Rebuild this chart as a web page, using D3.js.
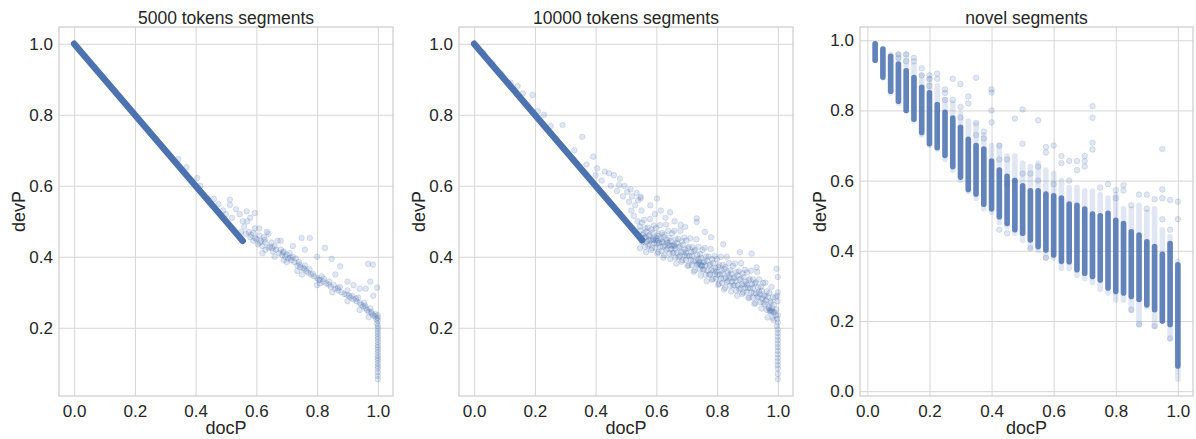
<!DOCTYPE html>
<html>
<head>
<meta charset="utf-8">
<script src="https://cdn.jsdelivr.net/npm/d3@7"></script>
<style>
  body { margin: 0; background: #fff; }
  svg text { font-family: Arial, "Liberation Sans", sans-serif; }
</style>
</head>
<body>
<svg id="chart" width="1196" height="439"></svg>
<script>
// tick values
const ticksX = [0, 0.2, 0.4, 0.6, 0.8, 1.0];
const ticksY12 = [0.2, 0.4, 0.6, 0.8, 1.0];
const ticksY3 = [0, 0.2, 0.4, 0.6, 0.8, 1.0];

// ---- 5000 tokens segments ----
// solid run of overlapping points along devP = 1 - docP
const run5000 = [[0.0, 1.0], [0.1, 0.9], [0.2, 0.8], [0.3, 0.7], [0.4, 0.6], [0.5, 0.5], [0.555, 0.445]];
const pts5000 = [
  [0.343,0.675],[0.37,0.652],[0.405,0.622],[0.415,0.60],[0.44,0.565],[0.46,0.563],[0.475,0.548],
  [0.513,0.561],[0.513,0.546],[0.533,0.534],[0.49,0.53],[0.50,0.52],[0.52,0.51],
  [0.545,0.52],[0.568,0.528],[0.595,0.523],[0.58,0.51],[0.555,0.50],[0.57,0.50],[0.56,0.485],
  [0.55,0.47],[0.565,0.465],[0.575,0.47],[0.58,0.455],[0.59,0.467],[0.59,0.445],[0.595,0.48],[0.60,0.45],
  [0.605,0.435],[0.61,0.46],[0.615,0.445],[0.62,0.43],[0.625,0.455],[0.63,0.44],[0.635,0.47],[0.64,0.425],
  [0.645,0.429],[0.65,0.44],[0.655,0.415],[0.66,0.43],[0.665,0.42],[0.67,0.445],[0.675,0.41],[0.68,0.42],
  [0.685,0.405],[0.69,0.415],[0.695,0.40],[0.70,0.406],[0.705,0.395],[0.71,0.41],[0.715,0.39],[0.72,0.40],
  [0.725,0.385],[0.73,0.395],[0.735,0.375],[0.74,0.385],[0.745,0.37],[0.754,0.368],[0.76,0.375],[0.765,0.36],
  [0.77,0.355],[0.775,0.365],[0.78,0.35],[0.79,0.345],[0.80,0.34],[0.805,0.335],[0.809,0.335],[0.815,0.345],
  [0.82,0.33],[0.83,0.325],[0.84,0.33],[0.845,0.315],[0.855,0.32],[0.86,0.31],[0.87,0.305],[0.875,0.315],
  [0.88,0.30],[0.89,0.295],[0.897,0.293],[0.90,0.305],[0.91,0.285],[0.915,0.29],[0.92,0.28],[0.93,0.275],
  [0.935,0.285],[0.94,0.27],[0.945,0.265],[0.952,0.26],[0.955,0.27],[0.96,0.255],[0.965,0.25],[0.97,0.245],
  [0.975,0.255],[0.98,0.24],[0.985,0.235],[0.99,0.232],[0.995,0.225],
  [0.62,0.41],[0.66,0.40],[0.70,0.385],[0.75,0.35],[0.80,0.32],[0.85,0.30],[0.90,0.275],[0.94,0.25],[0.97,0.23],
  [0.61,0.48],[0.64,0.465],[0.68,0.445],[0.72,0.43],[0.749,0.453],[0.776,0.453],[0.76,0.42],[0.80,0.40],
  [0.826,0.425],[0.848,0.394],[0.876,0.373],[0.86,0.35],[0.90,0.33],[0.92,0.32],[0.94,0.31],[0.96,0.31],
  [0.968,0.38],[0.984,0.378],[0.998,0.313],[0.975,0.33],[0.985,0.29],
  [0.583,0.462],[0.597,0.452],[0.612,0.44],[0.627,0.448],[0.652,0.425],[0.688,0.412],[0.712,0.398],
  [0.742,0.378],[0.758,0.366],[0.786,0.352],[0.822,0.338],[0.838,0.322],[0.868,0.312],[0.905,0.29],
  [0.928,0.282],[0.958,0.262],[0.978,0.245],[0.992,0.238],[0.63,0.42],[0.69,0.39],[0.735,0.36],[0.81,0.325],
  [1,0.235],[1,0.228],[1,0.22],[0.998,0.212],[1,0.205],[1,0.198],[1,0.19],[1,0.183],[1,0.175],[1,0.168],
  [1,0.16],[1,0.152],[1,0.145],[1,0.138],[1,0.13],[1,0.122],[1,0.115],[1,0.108],[1,0.10],[1,0.092],
  [1,0.085],[1,0.075],[1,0.065],[1,0.055]
];

// ---- 10000 tokens segments ----
const run10000 = [[0.0, 1.0], [0.1, 0.9], [0.2, 0.8], [0.3, 0.7], [0.4, 0.6], [0.5, 0.5], [0.553, 0.447]];
const pts10000 = [
  // sparse points above the run
  [0.03,0.975],[0.06,0.945],[0.09,0.915],[0.12,0.89],[0.143,0.881],[0.16,0.86],[0.192,0.856],[0.21,0.81],
  [0.23,0.80],[0.252,0.768],[0.291,0.771],[0.33,0.70],[0.356,0.738],[0.37,0.66],[0.392,0.682],[0.40,0.63],
  [0.405,0.649],[0.42,0.615],[0.43,0.64],[0.444,0.635],[0.45,0.60],[0.46,0.63],[0.47,0.585],[0.477,0.602],
  [0.48,0.62],[0.49,0.57],[0.495,0.60],[0.504,0.583],[0.51,0.555],[0.515,0.59],[0.52,0.57],[0.53,0.545],
  [0.535,0.58],[0.54,0.56],[0.548,0.569],[0.526,0.515],[0.538,0.5],[0.545,0.485],[0.518,0.53],[0.602,0.564],
  [0.551,0.53],[0.548,0.565],[0.58,0.545],[0.595,0.52],[0.615,0.53],[0.63,0.51],[0.645,0.525],[0.66,0.5],
  [0.68,0.49],[0.695,0.484],[0.733,0.498],[0.733,0.508],[0.76,0.47],[0.78,0.455],[0.82,0.435],[0.875,0.413],
  [0.914,0.409],[0.93,0.37],[0.996,0.366],[1.0,0.343],[1.0,0.30],[0.998,0.29],[0.999,0.275],
  // main cloud
  [0.546,0.424],[0.553,0.441],[0.549,0.452],[0.555,0.461],[0.547,0.474],[0.552,0.496],
  [0.563,0.428],[0.557,0.443],[0.561,0.454],[0.558,0.465],[0.564,0.48],[0.559,0.504],
  [0.566,0.413],[0.573,0.431],[0.569,0.443],[0.575,0.458],[0.567,0.471],[0.572,0.482],
  [0.583,0.419],[0.577,0.435],[0.581,0.446],[0.578,0.462],[0.584,0.477],[0.579,0.506],
  [0.586,0.424],[0.593,0.438],[0.589,0.447],[0.595,0.454],[0.587,0.468],[0.592,0.488],
  [0.603,0.409],[0.597,0.426],[0.601,0.437],[0.598,0.446],[0.604,0.459],[0.599,0.481],
  [0.606,0.413],[0.613,0.428],[0.609,0.439],[0.615,0.45],[0.607,0.465],[0.612,0.489],
  [0.623,0.398],[0.617,0.416],[0.621,0.428],[0.618,0.443],[0.624,0.456],[0.619,0.467],
  [0.626,0.404],[0.633,0.42],[0.629,0.431],[0.635,0.447],[0.627,0.462],[0.632,0.491],
  [0.643,0.409],[0.637,0.423],[0.641,0.432],[0.638,0.439],[0.644,0.453],[0.639,0.473],
  [0.646,0.394],[0.653,0.411],[0.649,0.422],[0.655,0.431],[0.647,0.444],[0.652,0.466],
  [0.663,0.397],[0.657,0.412],[0.661,0.423],[0.658,0.434],[0.664,0.449],[0.659,0.473],
  [0.666,0.381],[0.673,0.399],[0.669,0.411],[0.675,0.426],[0.667,0.439],[0.672,0.45],
  [0.683,0.386],[0.677,0.402],[0.681,0.413],[0.678,0.429],[0.684,0.444],[0.679,0.473],
  [0.686,0.39],[0.693,0.404],[0.689,0.413],[0.695,0.42],[0.687,0.434],[0.692,0.454],
  [0.703,0.374],[0.697,0.391],[0.701,0.402],[0.698,0.411],[0.704,0.424],[0.699,0.446],
  [0.706,0.376],[0.713,0.391],[0.709,0.402],[0.715,0.413],[0.707,0.428],[0.712,0.452],
  [0.723,0.358],[0.717,0.376],[0.721,0.388],[0.718,0.403],[0.724,0.416],[0.719,0.427],
  [0.726,0.362],[0.733,0.378],[0.729,0.389],[0.735,0.405],[0.727,0.42],[0.732,0.449],
  [0.743,0.364],[0.737,0.378],[0.741,0.387],[0.738,0.394],[0.744,0.408],[0.739,0.428],
  [0.746,0.347],[0.753,0.364],[0.749,0.375],[0.755,0.384],[0.747,0.397],[0.752,0.419],
  [0.763,0.349],[0.757,0.364],[0.761,0.375],[0.758,0.386],[0.764,0.401],[0.759,0.425],
  [0.766,0.331],[0.773,0.349],[0.769,0.361],[0.775,0.376],[0.767,0.389],[0.772,0.40],
  [0.783,0.335],[0.777,0.351],[0.781,0.362],[0.778,0.378],[0.784,0.393],[0.779,0.422],
  [0.786,0.338],[0.793,0.352],[0.789,0.361],[0.795,0.368],[0.787,0.382],[0.792,0.402],
  [0.803,0.321],[0.797,0.338],[0.801,0.349],[0.798,0.358],[0.804,0.371],[0.799,0.393],
  [0.806,0.324],[0.813,0.339],[0.809,0.35],[0.815,0.361],[0.807,0.376],[0.812,0.40],
  [0.823,0.308],[0.817,0.326],[0.821,0.338],[0.818,0.353],[0.824,0.366],[0.819,0.377],
  [0.826,0.313],[0.833,0.329],[0.829,0.34],[0.835,0.356],[0.827,0.371],[0.832,0.40],
  [0.843,0.318],[0.837,0.332],[0.841,0.341],[0.838,0.348],[0.844,0.362],[0.839,0.382],
  [0.846,0.302],[0.853,0.319],[0.849,0.33],[0.855,0.339],[0.847,0.352],[0.852,0.374],
  [0.863,0.305],[0.857,0.32],[0.861,0.331],[0.858,0.342],[0.864,0.357],[0.859,0.381],
  [0.866,0.29],[0.873,0.308],[0.869,0.32],[0.875,0.335],[0.867,0.348],[0.872,0.359],
  [0.883,0.295],[0.877,0.311],[0.881,0.322],[0.878,0.338],[0.884,0.353],[0.879,0.382],
  [0.886,0.299],[0.893,0.313],[0.889,0.322],[0.895,0.329],[0.887,0.343],[0.892,0.363],
  [0.903,0.284],[0.897,0.301],[0.901,0.312],[0.898,0.321],[0.904,0.334],[0.899,0.356],
  [0.906,0.285],[0.913,0.30],[0.909,0.311],[0.915,0.322],[0.907,0.337],[0.912,0.361],
  [0.923,0.267],[0.917,0.285],[0.921,0.297],[0.918,0.312],[0.924,0.325],[0.919,0.336],
  [0.926,0.27],[0.933,0.286],[0.929,0.297],[0.935,0.313],[0.927,0.328],[0.932,0.357],
  [0.943,0.272],[0.937,0.286],[0.941,0.295],[0.938,0.302],[0.944,0.316],[0.939,0.336],
  [0.946,0.254],[0.953,0.271],[0.949,0.282],[0.955,0.291],[0.947,0.304],[0.952,0.326],
  [0.963,0.251],[0.957,0.266],[0.961,0.277],[0.958,0.288],[0.964,0.303],[0.959,0.327],
  [0.966,0.229],[0.973,0.247],[0.969,0.259],[0.975,0.274],[0.967,0.287],[0.972,0.298],
  [0.983,0.228],[0.977,0.244],[0.981,0.255],[0.978,0.271],[0.984,0.286],[0.979,0.315],
  [0.986,0.221],[0.993,0.235],[0.989,0.244],[0.995,0.251],[0.987,0.265],[0.992,0.285],
  // darker spots
  [0.575,0.447],[0.59,0.45],[0.605,0.445],[0.62,0.44],[0.635,0.44],[0.65,0.432],[0.66,0.43],[0.74,0.382],
  [0.745,0.378],[0.75,0.375],[0.97,0.255],[0.975,0.25],[0.98,0.248],[0.985,0.245],[0.565,0.455],[0.6,0.452],
  // at docP = 1
  [1,0.235],[0.998,0.225],[1,0.215],[0.997,0.205],[1,0.195],[1,0.185],[1,0.175],[1,0.165],[1,0.155],
  [1,0.145],[1,0.135],[1,0.125],[1,0.115],[1,0.105],[1,0.095],[1,0.085],[1,0.07],[1,0.055]
];

// ---- novel segments ----
// docP comes in steps of 0.025; each column is a stack of overlapping points
const novelX = [0.025,0.05,0.075,0.1,0.125,0.15,0.175,0.2,0.225,0.25,0.275,0.3,0.325,0.35,0.375,0.4,
  0.425,0.45,0.475,0.5,0.525,0.55,0.575,0.6,0.625,0.65,0.675,0.7,0.725,0.75,0.775,0.8,0.825,0.85,0.875,
  0.9,0.925,0.95,0.975,1.0];
const novelCoreHi = [0.990,0.975,0.954,0.932,0.913,0.894,0.866,0.850,0.817,0.795,0.778,0.752,0.718,0.700,
  0.690,0.656,0.630,0.612,0.600,0.585,0.571,0.571,0.562,0.557,0.550,0.533,0.530,0.519,0.505,0.500,0.507,
  0.487,0.478,0.454,0.445,0.426,0.412,0.390,0.421,0.360];
const novelCoreLo = [0.943,0.895,0.855,0.826,0.800,0.775,0.737,0.705,0.694,0.672,0.640,0.610,0.575,0.562,
  0.533,0.520,0.497,0.478,0.460,0.450,0.431,0.412,0.402,0.388,0.370,0.369,0.346,0.336,0.327,0.317,0.294,
  0.284,0.280,0.270,0.261,0.246,0.232,0.200,0.190,0.072];
const novelLightHi = [0.990,0.975,0.960,0.960,0.960,0.930,0.900,0.890,0.870,0.830,0.820,0.790,0.770,0.760,
  0.730,0.700,0.700,0.670,0.670,0.650,0.640,0.650,0.630,0.620,0.600,0.580,0.580,0.570,0.570,0.560,0.550,
  0.560,0.520,0.520,0.530,0.510,0.520,0.460,0.440,0.370];
const novelLightLo = [0.943,0.893,0.850,0.820,0.800,0.770,0.730,0.700,0.690,0.660,0.630,0.600,0.570,0.550,
  0.520,0.510,0.480,0.470,0.450,0.430,0.410,0.400,0.380,0.380,0.350,0.350,0.330,0.320,0.310,0.290,0.280,
  0.260,0.260,0.230,0.190,0.240,0.185,0.200,0.150,0.034];
const novelOut = [
  [0.1,0.96],[0.1,0.95],[0.125,0.96],[0.15,0.95],[0.15,0.94],[0.175,0.92],[0.2,0.90],[0.2,0.89],
  [0.225,0.905],[0.225,0.89],[0.25,0.86],[0.25,0.85],[0.275,0.89],[0.3,0.875],[0.325,0.84],[0.35,0.893],
  [0.4,0.86],[0.4,0.851],[0.35,0.764],[0.4,0.80],[0.4,0.766],[0.3,0.78],[0.325,0.82],[0.275,0.83],
  [0.375,0.74],[0.425,0.70],[0.475,0.777],[0.5,0.803],[0.5,0.705],[0.55,0.772],[0.575,0.696],[0.575,0.68],
  [0.6,0.70],[0.725,0.812],[0.725,0.779],[0.725,0.708],[0.725,0.689],[0.95,0.69],[0.625,0.67],[0.65,0.656],
  [0.675,0.656],[0.7,0.656],[0.7,0.67],[0.7,0.64],[0.675,0.63],[0.625,0.65],[0.775,0.59],[0.8,0.573],
  [0.825,0.587],[0.825,0.572],[0.875,0.56],[0.9,0.56],[0.925,0.547],[0.95,0.575],[0.95,0.55],[0.975,0.545],
  [1.0,0.54],[1.0,0.49],[0.45,0.59],[0.475,0.60],[0.525,0.62],[0.55,0.60],[0.525,0.407],[0.575,0.38],
  [0.85,0.232],[0.875,0.19],[0.925,0.185],[0.975,0.15],[0.425,0.46],[0.45,0.45],
  [0.125,0.94],[0.175,0.90],[0.2,0.87],[0.25,0.83],[0.3,0.81],[0.35,0.73],[0.375,0.72],[0.425,0.66],
  [0.45,0.66],[0.5,0.62],[0.55,0.64],[0.6,0.59],[0.65,0.60],[0.75,0.58],[0.8,0.55],[0.85,0.53],
  [0.9,0.52],[0.95,0.49],[0.975,0.46]
];

const blue = "#4c72b0";
const ink = "#262626";
const gridCol = "#d6d6d6";
const ptR = 2.8;

const svg = d3.select("#chart");

function padDomain(vals) {
  var ext = d3.extent(vals);
  var pad = (ext[1] - ext[0]) * 0.05;
  return [ext[0] - pad, ext[1] + pad];
}

function panel(box, title, xVals, yVals, yTicks) {
  var g = svg.append("g");
  var x = d3.scaleLinear().domain(padDomain(xVals)).range([box.left, box.right]);
  var y = d3.scaleLinear().domain(padDomain(yVals)).range([box.bottom, box.top]);
  var w = box.right - box.left, h = box.bottom - box.top;

  var ax = g.append("g")
    .attr("transform", "translate(0," + box.bottom + ")")
    .call(d3.axisBottom(x).tickValues(ticksX).tickFormat(d3.format(".1f")).tickSize(-h).tickPadding(9));
  var ay = g.append("g")
    .attr("transform", "translate(" + box.left + ",0)")
    .call(d3.axisLeft(y).tickValues(yTicks).tickFormat(d3.format(".1f")).tickSize(-w).tickPadding(6));

  [ax, ay].forEach(function(a) {
    a.select(".domain").remove();
    a.selectAll("line").attr("stroke", gridCol).attr("stroke-width", 1);
    a.selectAll("text")
      .attr("fill", ink)
      .style("font-size", "17px")
      .style("font-family", "Arial, 'Liberation Sans', sans-serif");
  });

  g.append("rect")
    .attr("x", box.left).attr("y", box.top)
    .attr("width", w).attr("height", h)
    .attr("fill", "none").attr("stroke", "#cccccc").attr("stroke-width", 1.2);

  g.append("text")
    .attr("x", (box.left + box.right) / 2).attr("y", box.top - 3)
    .attr("text-anchor", "middle").attr("fill", ink)
    .style("font-size", "17.5px")
    .text(title);

  g.append("text")
    .attr("x", (box.left + box.right) / 2).attr("y", box.bottom + 38)
    .attr("text-anchor", "middle").attr("fill", ink)
    .style("font-size", "18px")
    .text("docP");

  g.append("text")
    .attr("transform", "translate(" + (box.left - 34) + "," + ((box.top + box.bottom) / 2) + ") rotate(-90)")
    .attr("text-anchor", "middle").attr("fill", ink)
    .style("font-size", "18px")
    .text("devP");

  var marks = g.append("g");
  return {g: marks, x: x, y: y};
}

function drawPoints(p, pts) {
  p.g.append("g").selectAll("circle")
    .data(pts)
    .join("circle")
    .attr("cx", d => p.x(d[0]))
    .attr("cy", d => p.y(d[1]))
    .attr("r", ptR)
    .attr("fill", blue).attr("fill-opacity", 0.17)
    .attr("stroke", blue).attr("stroke-opacity", 0.22).attr("stroke-width", 0.8);
}

function drawRun(p, run) {
  var line = d3.line().x(d => p.x(d[0])).y(d => p.y(d[1]));
  p.g.append("path")
    .datum(run)
    .attr("d", line)
    .attr("fill", "none")
    .attr("stroke", blue)
    .attr("stroke-width", 6.5)
    .attr("stroke-linecap", "round");
}

// panel 1
var all5000 = run5000.concat(pts5000);
var p1 = panel({left: 59, right: 393, top: 27, bottom: 396}, "5000 tokens segments",
  all5000.map(d => d[0]), all5000.map(d => d[1]), ticksY12);
drawPoints(p1, pts5000);
drawRun(p1, run5000);

// panel 2
var all10000 = run10000.concat(pts10000);
var p2 = panel({left: 459, right: 793, top: 27, bottom: 396}, "10000 tokens segments",
  all10000.map(d => d[0]), all10000.map(d => d[1]), ticksY12);
drawPoints(p2, pts10000);
drawRun(p2, run10000);

// panel 3
var novelYs = novelLightHi.concat(novelLightLo, novelOut.map(d => d[1]));
var p3 = panel({left: 860, right: 1193, top: 27, bottom: 396}, "novel segments",
  novelX.concat(novelOut.map(d => d[0])), novelYs, ticksY3);

drawPoints(p3, novelOut);

p3.g.append("g").selectAll("line")
  .data(novelX)
  .join("line")
  .attr("x1", d => p3.x(d)).attr("x2", d => p3.x(d))
  .attr("y1", (d, i) => p3.y(novelLightLo[i]))
  .attr("y2", (d, i) => p3.y(novelLightHi[i]))
  .attr("stroke", blue).attr("stroke-opacity", 0.17)
  .attr("stroke-width", 5.6).attr("stroke-linecap", "round");

p3.g.append("g").selectAll("line")
  .data(novelX)
  .join("line")
  .attr("x1", d => p3.x(d)).attr("x2", d => p3.x(d))
  .attr("y1", (d, i) => p3.y(novelCoreLo[i]))
  .attr("y2", (d, i) => p3.y(novelCoreHi[i]))
  .attr("stroke", blue).attr("stroke-opacity", 0.85)
  .attr("stroke-width", 5.6).attr("stroke-linecap", "round");
</script>
</body>
</html>
